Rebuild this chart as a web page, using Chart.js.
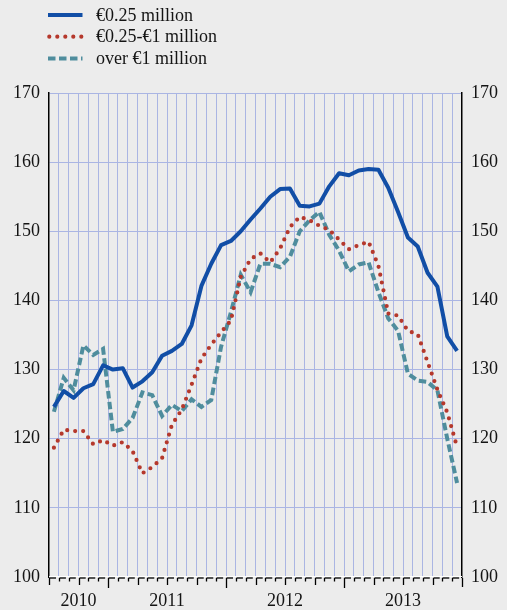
<!DOCTYPE html>
<html><head><meta charset="utf-8">
<script src="https://cdn.jsdelivr.net/npm/chart.js@4.4.1/dist/chart.umd.min.js"></script>
<style>html,body{margin:0;padding:0;background:#ECECEC;} canvas{display:block;}</style>
</head><body>
<canvas id="c" width="507" height="610"></canvas>
<script>
const months = [
  '2010-07','2010-08','2010-09','2010-10','2010-11','2010-12',
  '2011-01','2011-02','2011-03','2011-04','2011-05','2011-06','2011-07','2011-08','2011-09','2011-10','2011-11','2011-12',
  '2012-01','2012-02','2012-03','2012-04','2012-05','2012-06','2012-07','2012-08','2012-09','2012-10','2012-11','2012-12',
  '2013-01','2013-02','2013-03','2013-04','2013-05','2013-06','2013-07','2013-08','2013-09','2013-10','2013-11','2013-12'
];
const seriesNames = ['€0.25 million', '€0.25-€1 million', 'over €1 million'];
const valuesSmall = [124.6,126.9,125.9,127.3,127.9,130.6,130.0,130.2,127.4,128.3,129.6,132.0,132.7,133.7,136.4,142.1,145.3,148.0,148.6,150.0,151.7,153.3,155.0,156.1,156.2,153.7,153.6,154.0,156.5,158.4,158.1,158.8,159.0,158.9,156.3,152.8,149.1,147.8,144.0,142.0,134.8,132.7];
const valuesMid = [118.7,121.3,121.1,121.1,119.2,119.8,119.0,119.5,118.2,115.0,115.9,117.2,122.0,124.2,127.8,131.6,133.6,135.4,137.1,143.4,146.0,146.8,145.5,147.5,150.6,152.1,151.6,150.8,150.2,148.8,147.4,148.0,148.5,145.0,138.1,137.8,135.6,135.1,131.1,127.1,123.8,118.8];
const valuesLarge = [123.9,128.8,127.0,133.5,132.1,133.0,121.0,121.4,123.0,126.7,126.3,123.3,124.9,124.0,125.7,124.6,125.6,133.3,138.3,143.7,141.2,145.3,145.3,144.8,146.3,150.0,151.6,152.8,149.5,147.2,144.2,145.2,145.5,141.2,137.4,135.6,129.4,128.4,128.2,127.0,120.0,113.6];
const yTicks = [100,110,120,130,140,150,160,170];
const yearLabels = ['2010','2011','2012','2013'];

const BG = '#ECECEC', GRID = '#AAB5E3', TXT = '#141414';
const yearCenters = yearLabels.map(y => {
  const idx = months.map((m,i)=>m.startsWith(y)?i:-1).filter(i=>i>=0);
  return (idx[0] + idx[idx.length-1] + 1) / 2;
});
const toPts = arr => arr.map((v,i)=>({x:i+0.5, y:v}));

Chart.defaults.font.family = "'Liberation Serif','Times New Roman',serif";
Chart.defaults.font.size = 18;
Chart.defaults.color = TXT;

const decor = {
  id: 'decor',
  beforeDraw(chart) {
    const ctx = chart.ctx;
    ctx.save(); ctx.fillStyle = BG; ctx.fillRect(0,0,chart.width,chart.height); ctx.restore();
  },
  afterDraw(chart) {
    const {ctx, chartArea: a, scales: {x}} = chart;
    ctx.save();
    ctx.strokeStyle = '#ffffff'; ctx.lineWidth = 1;
    ctx.beginPath(); ctx.moveTo(a.left, a.bottom - 0.5); ctx.lineTo(a.right, a.bottom - 0.5); ctx.stroke();
    ctx.strokeStyle = '#000'; ctx.lineWidth = 1.3;
    const yb = Math.round(a.bottom) + 1;
    for (let k = 0; k <= months.length; k++) {
      const px = Math.round(x.getPixelForValue(k)) + 0.5;
      let len = 3.5;
      if (k === months.length) len = 9;
      else {
        const mn = parseInt(months[k].slice(5)) - 1;
        if (mn === 0) len = 10; else if (mn % 3 === 0) len = 7;
      }
      ctx.beginPath(); ctx.moveTo(px, yb); ctx.lineTo(px, yb + len); ctx.stroke();
      if (k < months.length) {
        const nx = x.getPixelForValue(k + 1);
        ctx.beginPath(); ctx.moveTo(px, yb); ctx.lineTo(px + (nx - px) * 0.7, yb); ctx.stroke();
      }
    }
    // legend
    const baselines = [20.7, 42.4, 64.1];
    chart.data.datasets.forEach((ds, i) => {
      const ly = baselines[i] - 5.7;
      ctx.save();
      ctx.strokeStyle = ds.borderColor; ctx.lineWidth = ds.borderWidth;
      ctx.lineCap = ds.borderCapStyle || 'butt';
      ctx.setLineDash(ds.borderDash || []);
      ctx.beginPath(); ctx.moveTo(i === 1 ? 49.3 : 48, ly); ctx.lineTo(82.5, ly); ctx.stroke();
      ctx.restore();
      ctx.fillStyle = TXT; ctx.font = "18px 'Liberation Serif'"; ctx.textBaseline = 'alphabetic';
      ctx.fillText(ds.label, 96, baselines[i]);
    });
    ctx.restore();
  }
};

new Chart(document.getElementById('c'), {
  type: 'line',
  data: {
    datasets: [
      { label: seriesNames[0], data: toPts(valuesSmall), borderColor: '#114EA6', borderWidth: 4, pointRadius: 0, tension: 0, borderJoinStyle: 'round' },
      { label: seriesNames[1], data: toPts(valuesMid), borderColor: '#B5382C', borderWidth: 4.2, borderDash: [0, 8], borderCapStyle: 'round', pointRadius: 0, tension: 0 },
      { label: seriesNames[2], data: toPts(valuesLarge), borderColor: '#4F8D9D', borderWidth: 4, borderDash: [7.5, 3.5], pointRadius: 0, tension: 0 }
    ]
  },
  options: {
    responsive: false, animation: false, devicePixelRatio: 1,
    layout: { padding: { top: 93, left: 0, right: 0, bottom: 0 } },
    plugins: { legend: { display: false }, tooltip: { enabled: false } },
    scales: {
      x: {
        type: 'linear', min: 0, max: months.length,
        afterBuildTicks: s => { s.ticks = months.map((m,k)=>({value:k})).concat([{value: months.length}]); },
        afterFit: s => { s.height = 33; },
        grid: { color: c => (c.tick && (c.tick.value === 0 || c.tick.value === months.length)) ? 'rgba(0,0,0,0)' : GRID, lineWidth: 1, drawTicks: false },
        border: { display: false },
        ticks: { autoSkip: false, maxRotation: 0, padding: 13, color: TXT, font: { size: 18 },
          callback: v => { const i = yearCenters.indexOf(v); return i >= 0 ? yearLabels[i] : ''; } }
      },
      y: {
        type: 'linear', position: 'left', min: 100, max: 170,
        afterBuildTicks: s => { s.ticks = yTicks.map(v=>({value:v})); },
        afterFit: s => { s.width = 49; },
        grid: { color: c => (c.tick && c.tick.value === 100) ? 'rgba(0,0,0,0)' : GRID, lineWidth: 1, drawTicks: false },
        border: { display: true, color: '#000', width: 1.5 },
        ticks: { padding: 9, color: TXT, font: { size: 18 } }
      },
      y2: {
        type: 'linear', position: 'right', min: 100, max: 170,
        afterBuildTicks: s => { s.ticks = yTicks.map(v=>({value:v})); },
        afterFit: s => { s.width = 45; },
        grid: { display: false, drawTicks: false },
        border: { display: true, color: '#000', width: 1.5 },
        ticks: { padding: 9, color: TXT, font: { size: 18 } }
      }
    }
  },
  plugins: [decor]
});
</script>
</body></html>
